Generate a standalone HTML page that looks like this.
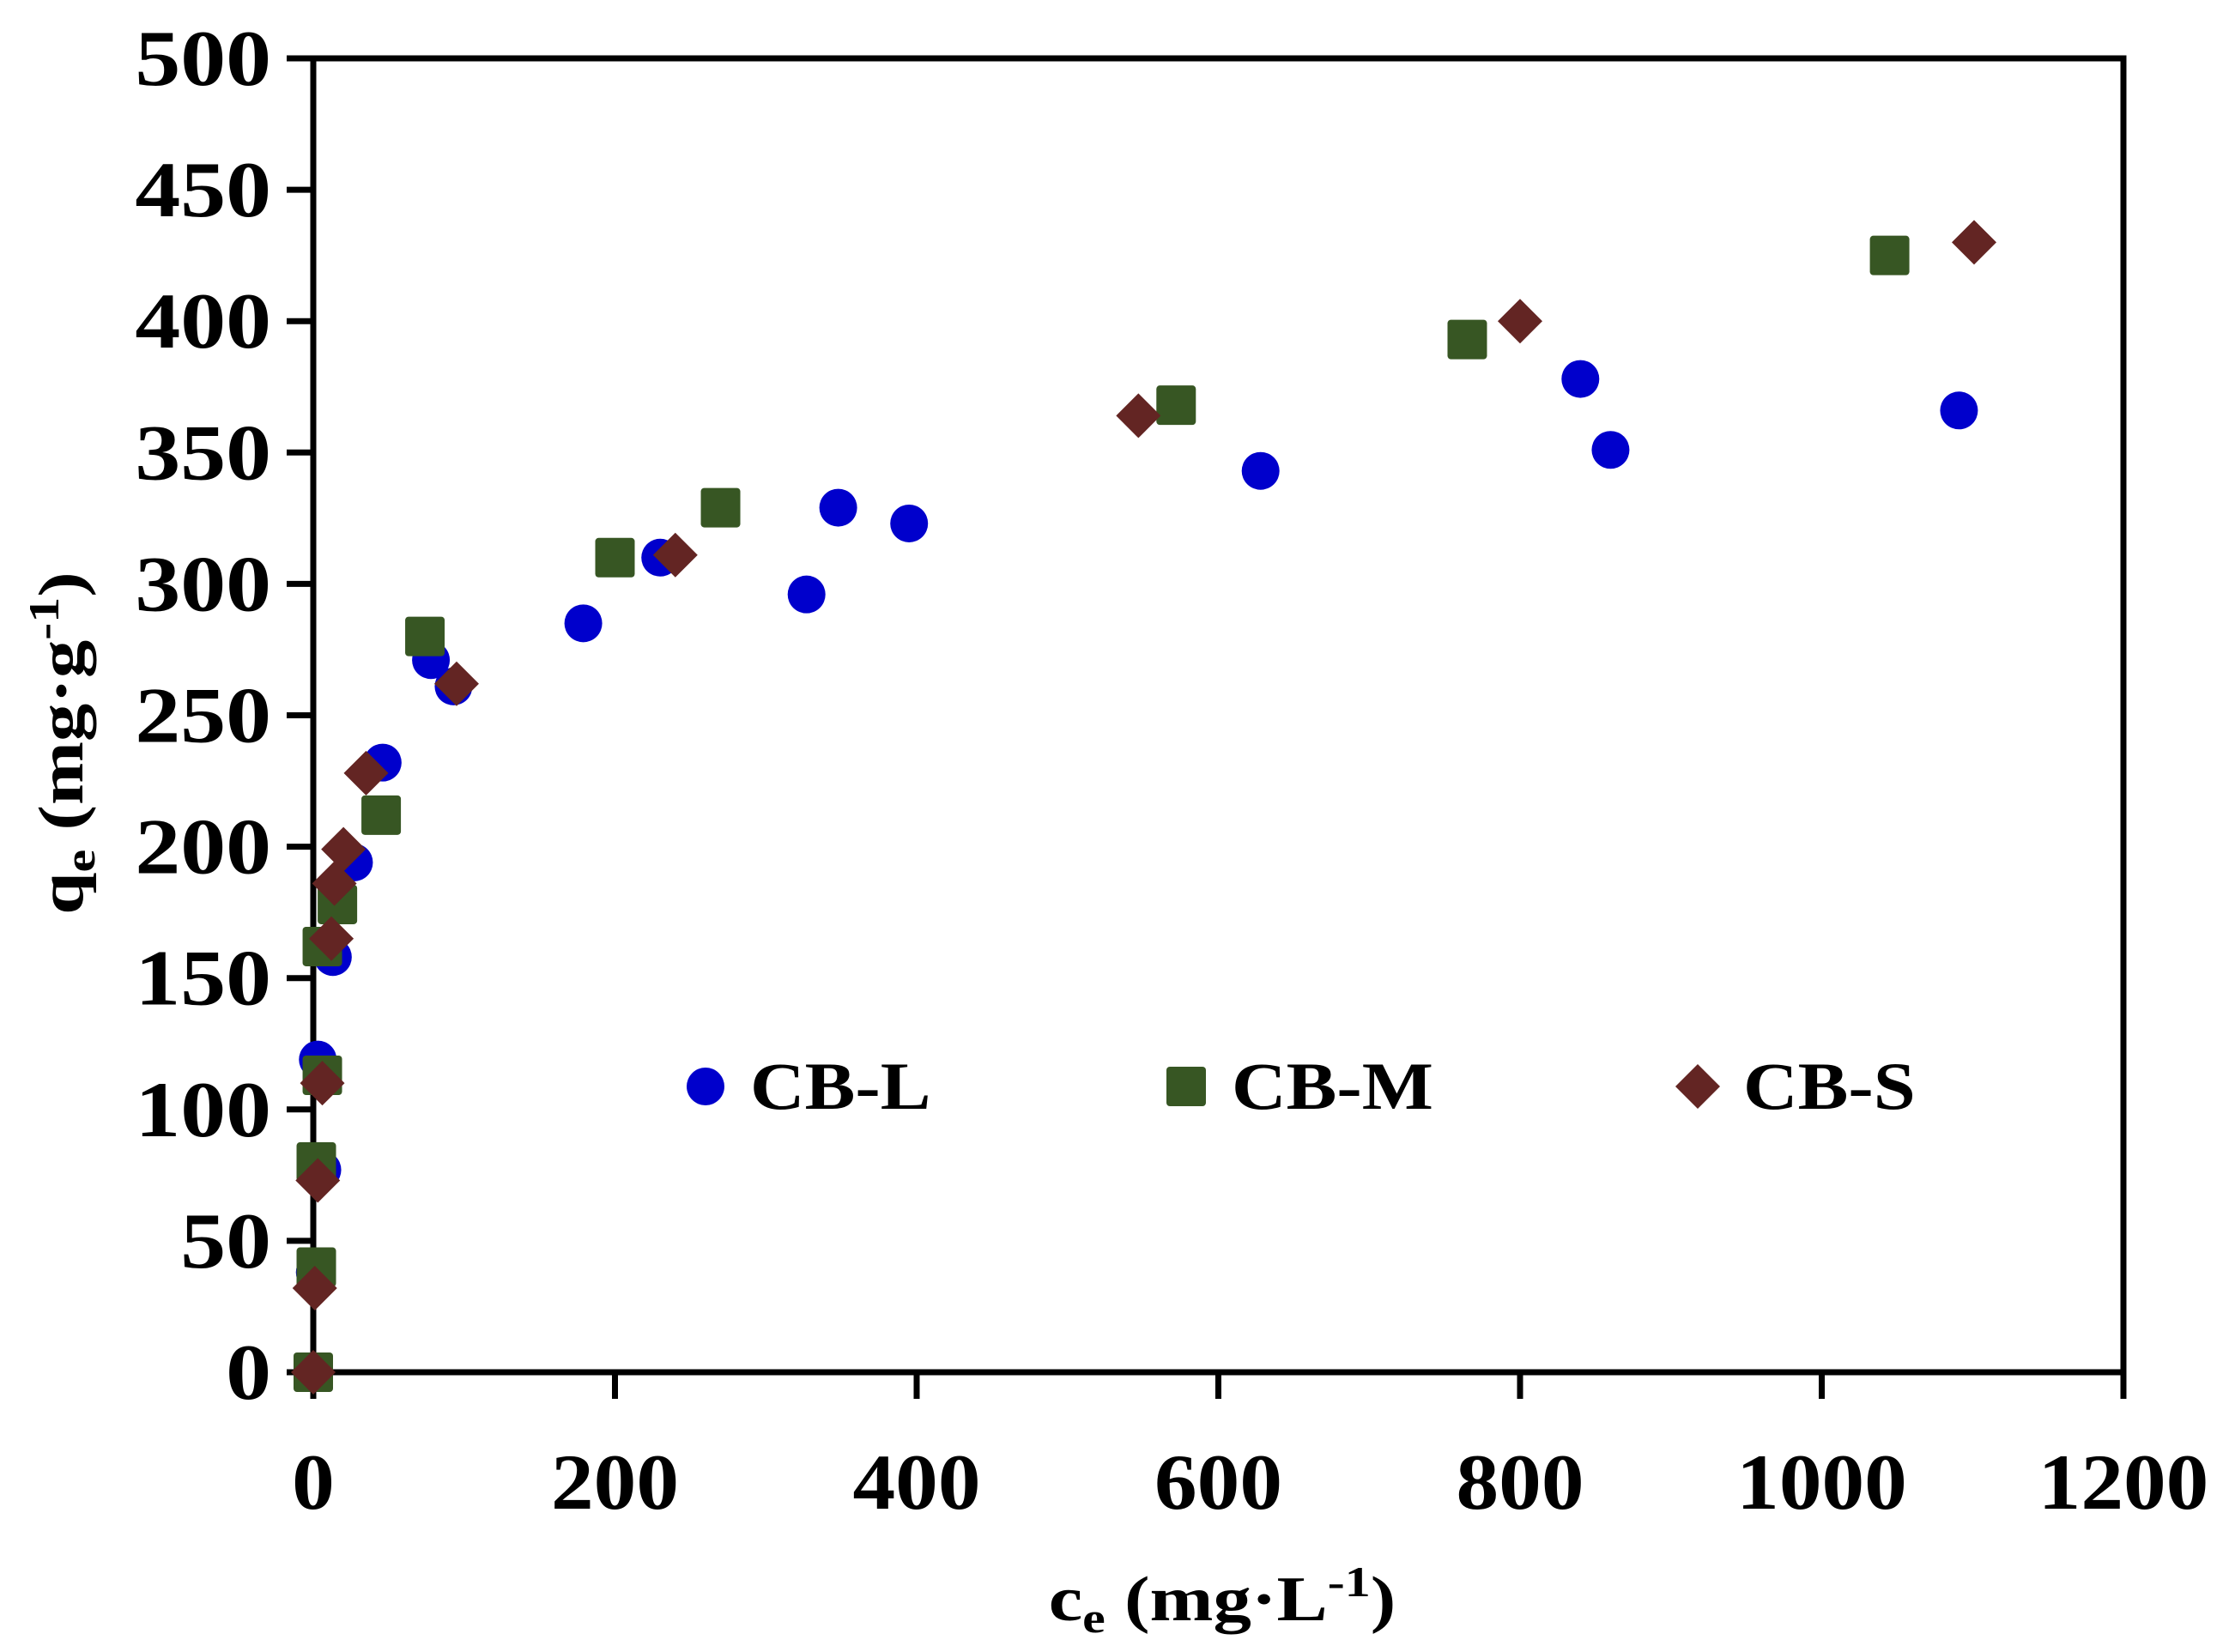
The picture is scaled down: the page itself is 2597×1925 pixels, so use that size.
<!DOCTYPE html>
<html><head><meta charset="utf-8"><style>
html,body{margin:0;padding:0;background:#fff;width:2597px;height:1925px;overflow:hidden}
svg{display:block}
text{font-family:"Liberation Serif",serif;font-weight:bold;fill:#000}
</style></head><body>
<svg id="chart" width="2597" height="1925" viewBox="0 0 2597 1925" xmlns="http://www.w3.org/2000/svg">
<g id="axes"></g>
<g id="marks"></g>
<text transform="translate(96,866) rotate(-90) scale(1.2,1)" text-anchor="middle" font-size="74">q<tspan font-size="50" dy="14">e</tspan><tspan dy="-14"> (mg·g</tspan><tspan font-size="50" dy="-28">-1</tspan><tspan dy="28">)</tspan></text>
<text transform="translate(1424,1888) scale(1.2,1)" text-anchor="middle" font-size="74">c<tspan font-size="50" dy="14">e</tspan><tspan dy="-14"> (mg·L</tspan><tspan font-size="50" dy="-28">-1</tspan><tspan dy="28">)</tspan></text>
<g>
<circle cx="822" cy="1266" r="22" fill="#0000CC"/>
<text transform="translate(874,1292) scale(1.13,1)" font-size="78">CB-L</text>
<rect x="1359" y="1243" width="46" height="46" rx="4" fill="#375623"/>
<text transform="translate(1435,1292) scale(1.13,1)" font-size="78">CB-M</text>
<path d="M1978 1240 L2004 1266 L1978 1292 L1952 1266 Z" fill="#632523"/>
<text transform="translate(2031,1292) scale(1.13,1)" font-size="78">CB-S</text>
</g>
</svg>
<script>
const xTicks = [0,200,400,600,800,1000,1200];
const yTicks = [0,50,100,150,200,250,300,350,400,450,500];
const lX = [0,1,6,3,13,27,46,78,93,179,230,327,348,395,628,840,860,1091];
const lY = [0,38,77,119,158,194,232,271,261,285,310,296,329,323,343,378,351,366];
const mX = [0,2,2,6,6,16,45,74,200,270,572,765,1045];
const mY = [0,40,80,113,162,178,212,280,310,329,368,393,425];
const sX = [0,1,3,6,12,14,20,35,95,240,547,800,1101];
const sY = [0,32,73,110,165,186,199,228,262,311,364,400,430];

const X0=365, X1=2474, Y0=1599, Y1=68;
const sx = v => X0 + (v/1200)*(X1-X0);
const sy = v => Y0 - (v/500)*(Y0-Y1);
const NS='http://www.w3.org/2000/svg';
const axes=document.getElementById('axes'), marks=document.getElementById('marks');
function mk(tag, attrs, parent){const e=document.createElementNS(NS,tag);for(const k in attrs)e.setAttribute(k,attrs[k]);parent.appendChild(e);return e;}

const frame=mk('rect',{x:X0,y:Y1,width:X1-X0,height:Y0-Y1,fill:'none',stroke:'#000','stroke-width':7},axes);


yTicks.forEach(v=>{
  const t=mk('line',{x1:X0-31,x2:X0,y1:sy(v),y2:sy(v),stroke:'#000','stroke-width':7},axes);
  
  
  const l=mk('text',{transform:`translate(316,${sy(v)+31}) scale(1.15,1)`,'text-anchor':'end','font-size':92},axes);
  l.textContent=v;
  
  
});
xTicks.forEach(v=>{
  const t=mk('line',{x1:sx(v),x2:sx(v),y1:Y0,y2:Y0+31,stroke:'#000','stroke-width':7},axes);
  
  
  const l=mk('text',{transform:`translate(${sx(v)},1758) scale(1.08,1)`,'text-anchor':'middle','font-size':92},axes);
  l.textContent=v;
  
  
});
lX.forEach((v,i)=>{
  const c=mk('circle',{cx:sx(v),cy:sy(lY[i]),r:22,fill:'#0000CC'},marks);
  
  
});
mX.forEach((v,i)=>{
  const r=mk('rect',{x:sx(v)-23,y:sy(mY[i])-23,width:46,height:46,rx:4,fill:'#375623'},marks);
  
  
});
sX.forEach((v,i)=>{
  const cx=sx(v), cy=sy(sY[i]);
  const p=mk('path',{d:`M${cx} ${cy-26} L${cx+26} ${cy} L${cx} ${cy+26} L${cx-26} ${cy} Z`,fill:'#632523'},marks);
  
  
});
</script>
</body></html>
